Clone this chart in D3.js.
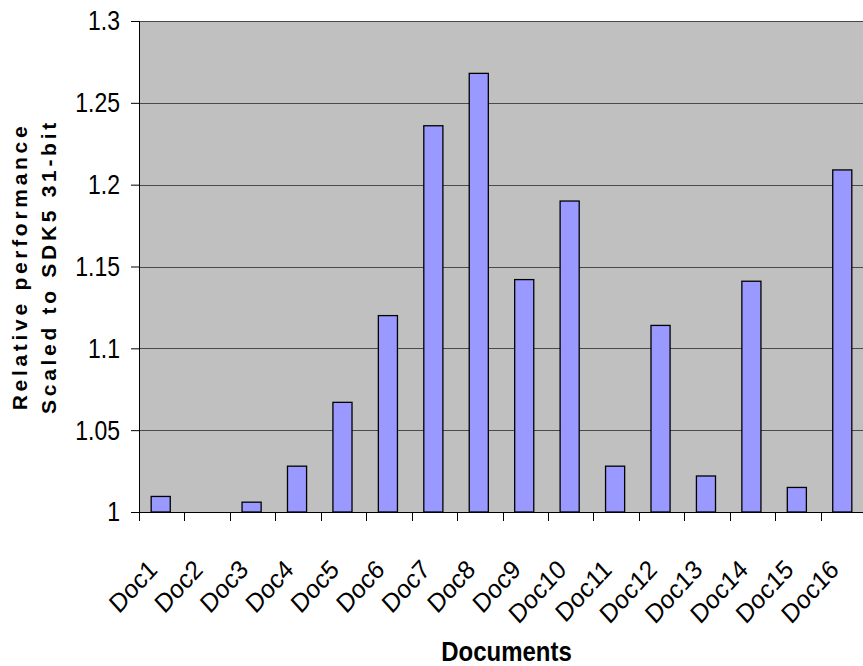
<!DOCTYPE html>
<html><head><meta charset="utf-8">
<script src="https://cdn.jsdelivr.net/npm/d3@7"></script>
<style>body{margin:0;background:#fff}svg{display:block}</style>
</head><body>
<svg id="c" width="863" height="666"></svg>
<script>
const categories = ["Doc1","Doc2","Doc3","Doc4","Doc5","Doc6","Doc7","Doc8","Doc9","Doc10","Doc11","Doc12","Doc13","Doc14","Doc15","Doc16"];
const values = [1.0095,1.0,1.006,1.028,1.067,1.12,1.236,1.268,1.142,1.19,1.028,1.114,1.022,1.141,1.015,1.209];
const yTicks = [1,1.05,1.1,1.15,1.2,1.25,1.3];
const yTickLabels = ["1","1.05","1.1","1.15","1.2","1.25","1.3"];
const xTitle = "Documents";
const yTitle = ["Relative performance","Scaled to SDK5 31-bit"];

(function(){
const svg = d3.select("#c");
const pl = 139, pt = 21, pr = 866, pb = 512;
const x = d3.scaleBand().domain(categories).range([pl, pr]).paddingInner(0).paddingOuter(0);
const y = d3.scaleLinear().domain([1, 1.3]).range([pb, pt]);
const font = "'Liberation Sans', Arial, sans-serif";

svg.append("rect").attr("x", pl).attr("y", pt).attr("width", pr-pl).attr("height", pb-pt).attr("fill", "#c0c0c0");

// gridlines
svg.append("g").selectAll("line").data(yTicks.filter(d=>d>1)).join("line")
  .attr("x1", pl).attr("x2", pr).attr("y1", d=>Math.round(y(d))+0.5).attr("y2", d=>Math.round(y(d))+0.5)
  .attr("stroke", "#4a4a4a").attr("stroke-width", 1);

// bars
const bw = x.step()*0.42;
svg.append("g").selectAll("rect").data(values.map((v,i)=>({c:categories[i],v})).filter(d=>d.v>1)).join("rect")
  .attr("x", d=>x(d.c)+x.step()/2-bw/2-1)
  .attr("y", d=>y(d.v))
  .attr("width", bw)
  .attr("height", d=>y(1)-y(d.v))
  .attr("fill", "#9999ff").attr("stroke", "#000").attr("stroke-width", 1.3);

// y axis
const ya = svg.append("g").attr("transform", `translate(${pl},0)`)
  .call(d3.axisLeft(y).tickValues(yTicks).tickFormat((d,i)=>yTickLabels[i]).tickSize(8).tickPadding(11));
ya.select(".domain").attr("stroke", "#000").attr("d", `M0.5,${pt}V${pb}`);
ya.selectAll(".tick line").attr("stroke", "#000");
ya.selectAll("text").attr("font-family", font).attr("font-size", 23).attr("fill", "#000")
  .attr("transform", "scale(1,1.2)");

// x axis
const xa = svg.append("g").attr("transform", `translate(0,${pb})`);
xa.append("line").attr("x1", pl).attr("x2", pr).attr("y1", 0.5).attr("y2", 0.5).attr("stroke", "#000");
const xticks = categories.map(c=>x(c)).concat([pr]);
xa.selectAll("line.t").data(xticks).join("line").attr("class","t")
  .attr("x1", d=>Math.round(d)+0.5).attr("x2", d=>Math.round(d)+0.5).attr("y1", 0).attr("y2", 9).attr("stroke", "#000");
xa.selectAll("text").data(categories).join("text")
  .attr("transform", d=>`translate(${x(d)+x.step()/2-3},${59}) scale(1,1.1) rotate(-45)`)
  .attr("text-anchor", "end")
  .attr("font-family", font).attr("font-size", 24).attr("fill", "#000")
  .text(d=>d);

// titles
svg.append("text").attr("transform", `translate(506.5,661) scale(1,1.12)`).attr("text-anchor", "middle")
  .attr("font-family", font).attr("font-size", 24).attr("font-weight", "bold").text(xTitle);
const yt = svg.append("text").attr("transform", `translate(0,${(pt+pb)/2}) rotate(-90)`)
  .attr("text-anchor", "middle").attr("font-family", font).attr("font-size", 21).attr("font-weight", "bold")
  .attr("letter-spacing", 3.7);
yt.append("tspan").attr("x", 0).attr("y", 27).text(yTitle[0]);
yt.append("tspan").attr("x", 0).attr("y", 56).text(yTitle[1]);
})();
</script>
</body></html>
